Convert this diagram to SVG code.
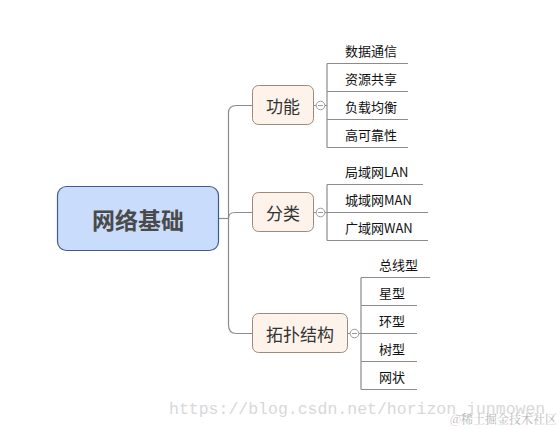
<svg xmlns="http://www.w3.org/2000/svg" width="560" height="429" viewBox="0 0 560 429">
<style>
.ln{fill:none;stroke:#8c8c8c;stroke-width:1.2}
.br{fill:#fdf3ea;stroke:#9c8b7c;stroke-width:1}
.bt{font-family:"Noto Sans CJK SC","Microsoft YaHei",sans-serif;font-size:17px;fill:#333333;text-anchor:middle;dominant-baseline:central}
.ct{font-family:"Noto Sans CJK SC","Microsoft YaHei",sans-serif;font-size:13px;fill:#111111;dominant-baseline:central}
.tg{fill:#ffffff;stroke:#9a9a9a;stroke-width:1}
.tm{stroke:#9a9a9a;stroke-width:1}
</style>
<rect width="560" height="429" fill="#ffffff"/>
<g id="connectors">
<path class="ln" d="M218.5,218.5 H228.5"/>
<path class="ln" d="M228.5,218.5 V113 Q228.5,105.5 236.5,105.5 H252.5"/>
<path class="ln" d="M228.5,218.5 Q228.5,212.5 235,212.5 H252.5"/>
<path class="ln" d="M228.5,218.5 V325 Q228.5,333.5 236.5,333.5 H252.5"/>
<path class="ln" d="M313,105.5 H316 M325,105.5 H327"/>
<path class="ln" d="M313,212.5 H316 M325,212.5 H327"/>
<path class="ln" d="M348,333.5 H350 M359,333.5 H361"/>
<path class="ln" d="M327,63.5 V147.5 M327,63.5 H408 M327,91.5 H408 M327,119.5 H408 M327,147.5 H408"/>
<path class="ln" d="M327,184.5 V240.5 M327,184.5 H423 M327,212.5 H428 M327,240.5 H428"/>
<path class="ln" d="M361,277.5 V389.5 M361,277.5 H430 M361,305.5 H417 M361,333.5 H417 M361,361.5 H417 M361,389.5 H417"/>
</g>
<g id="toggles">
<circle class="tg" cx="320.5" cy="105.5" r="4.3"/><path class="tm" d="M318,105.5 H323"/>
<circle class="tg" cx="320.5" cy="212.5" r="4.3"/><path class="tm" d="M318,212.5 H323"/>
<circle class="tg" cx="354.5" cy="333.5" r="4.3"/><path class="tm" d="M352,333.5 H357"/>
</g>
<g id="root">
<rect x="57.5" y="186.5" width="161" height="64" rx="9" fill="#c9dcfb" stroke="#405c8c" stroke-width="1.2"/>
<text x="138" y="218.5" font-family="'Noto Sans CJK SC','Microsoft YaHei',sans-serif" font-size="23" font-weight="bold" fill="#4a4a4a" text-anchor="middle" dominant-baseline="central">网络基础</text>
</g>
<g id="n-gongneng">
<rect class="br" x="252.5" y="85.5" width="61" height="39" rx="6"/>
<text class="bt" x="283" y="105">功能</text>
</g>
<g id="n-fenlei">
<rect class="br" x="252.5" y="192.5" width="61" height="39" rx="6"/>
<text class="bt" x="283" y="212">分类</text>
</g>
<g id="n-tuopu">
<rect class="br" x="252.5" y="313.5" width="95" height="39" rx="6"/>
<text class="bt" x="300" y="333">拓扑结构</text>
</g>
<g id="c-gongneng">
<text class="ct" x="345" y="50.5">数据通信</text>
<text class="ct" x="345" y="78.5">资源共享</text>
<text class="ct" x="345" y="106.5">负载均衡</text>
<text class="ct" x="345" y="134.5">高可靠性</text>
</g>
<g id="c-fenlei">
<text class="ct" x="345" y="171.5">局域网LAN</text>
<text class="ct" x="345" y="199.5">城域网MAN</text>
<text class="ct" x="345" y="227.5">广域网WAN</text>
</g>
<g id="c-tuopu">
<text class="ct" x="379" y="264.5">总线型</text>
<text class="ct" x="379" y="292.5">星型</text>
<text class="ct" x="379" y="320.5">环型</text>
<text class="ct" x="379" y="348.5">树型</text>
<text class="ct" x="379" y="376.5">网状</text>
</g>
<g id="watermark">
<text x="169" y="414" font-family="'Liberation Mono',monospace" font-size="16.5" fill="#d8d8d8">https://blog.csdn.net/horizon_junmowen</text>
<text x="450" y="424" font-family="'Noto Serif CJK SC','Noto Sans CJK SC',serif" font-size="12" fill="#b8b8b8">@稀土掘金技术社区</text>
</g>
</svg>
